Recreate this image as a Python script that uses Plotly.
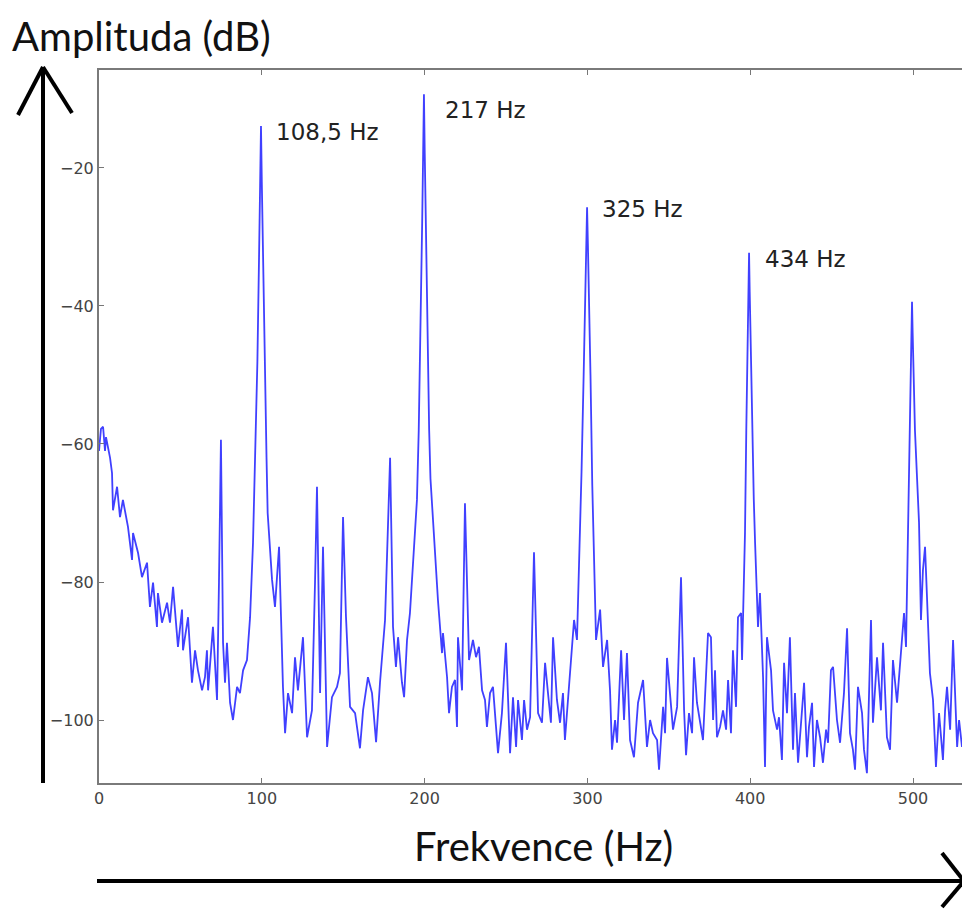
import plotly.graph_objects as go

# ---- data (x in axis units, amplitude in dB) ----
band_0_100 = [
    (0, -61), (1.2, -57.8), (2.5, -57.5), (3.7, -61), (4.3, -59), (5.5, -60.4), (6.8, -62),
    (8.0, -64.2), (8.6, -69.6), (11.1, -66.2), (12.9, -70.6), (14.7, -68.1), (17.8, -72),
    (20.3, -76.8), (20.9, -72.9), (24.0, -75.8), (26.4, -79.3), (29.5, -77.2), (31.3, -83.6),
    (33.2, -80.1), (35.6, -86.5), (36.2, -81.6), (38.7, -85.9), (41.8, -83), (43.6, -85.9),
    (45.5, -80.7), (48.5, -89.4), (51.0, -84), (51.6, -89.9), (54.7, -85.1), (57.1, -94.6),
    (59.0, -89.9), (60.8, -92.8), (63.3, -95.7), (65.1, -93.8), (66.3, -89.9), (67.0, -95.7),
    (70.0, -86.5), (72.5, -97.1), (73.7, -80), (74.9, -59.4), (76.2, -88.8), (77.4, -94.6),
    (78.6, -88.8), (80.5, -97.5), (82.3, -100), (84.8, -95.2), (86.6, -96.1), (88.5, -92.8),
    (90.9, -91.3), (92.8, -85.1), (94.6, -74.3), (96.0, -62), (97.3, -48), (98.3, -33), (99.0, -22),
]
band_100_200 = [
    (99.5, -13.9), (100.0, -22), (100.7, -33), (101.7, -48), (102.9, -62), (103.6, -70),
    (106.3, -79.7), (108.1, -83.6), (110.6, -74.9), (111.8, -85), (113.0, -95.2), (114.3, -101.9),
    (116.1, -96.1), (118.6, -99), (120.4, -90.9), (122.2, -95.7), (125.3, -88), (127.8, -102.5),
    (130.8, -98.6), (132.7, -80), (133.9, -66.2), (135.8, -96.1), (137.6, -74.9), (140.1, -103.9),
    (143.1, -96.7), (146.2, -95.2), (148.0, -93.2), (149.9, -70.6), (151.7, -85), (154.2, -98.1),
    (157.3, -99), (160.3, -104.1), (162.2, -98.6), (165.2, -93.8), (167.7, -96.1), (170.2, -103.2),
    (172.6, -94.6), (175.7, -85.5), (176.9, -75), (178.8, -62), (180.6, -86.5), (182.4, -92.3),
    (183.7, -88), (186.1, -94.6), (187.4, -96.7), (189.2, -88.4), (191.0, -84.5), (192.9, -77.2),
    (195.3, -68.1), (196.4, -58), (197.6, -43), (198.5, -28), (199.1, -18),
]
band_200_300 = [
    (199.6, -9.3), (200.1, -18), (200.7, -28), (201.6, -43), (202.8, -58), (203.6, -65),
    (206.4, -75.8), (208.2, -82.6), (210.7, -90.3), (211.3, -87.4), (213.8, -93.8), (215.0, -99),
    (216.8, -95.2), (218.7, -94.2), (219.9, -101), (220.5, -88), (223.0, -95.7), (224.8, -68.6),
    (227.3, -91.3), (229.7, -88.4), (231.6, -90.9), (233.4, -89.4), (235.3, -95.7), (237.1, -97.1),
    (238.3, -101), (240.2, -96.1), (242.0, -95.2), (243.9, -100.4), (245.1, -104.8), (247.5, -99),
    (250.0, -88.8), (252.5, -104.8), (254.3, -96.7), (256.2, -103.9), (257.4, -97.1), (259.8, -102.9),
    (261.1, -97.1), (262.9, -101.4), (264.8, -99.6), (267.2, -75.7), (269.7, -99), (272.1, -100.4),
    (274.0, -91.7), (275.8, -96.1), (277.6, -100.4), (278.9, -88), (281.3, -97.1), (283.2, -100.4),
    (285.0, -96.1), (286.2, -102.9), (288.1, -96.7), (289.9, -91.3), (291.8, -85.5), (293.6, -88.4),
    (294.8, -78.7), (296.4, -64), (297.7, -50), (298.6, -38), (299.3, -31),
]
band_300_400 = [
    (299.8, -25.7), (300.3, -31), (301.0, -38), (301.9, -50), (303.0, -66), (304.7, -81.6),
    (305.3, -88.4), (307.8, -84), (309.6, -92.3), (312.1, -88.4), (313.9, -95.7), (315.1, -104.3),
    (317.0, -100), (318.2, -103.3), (320.7, -89.9), (322.5, -100), (324.3, -90.3), (326.2, -102.9),
    (328.6, -105.4), (331.1, -97.5), (334.2, -94.2), (336.6, -103.9), (338.5, -100), (340.3, -101.9),
    (342.8, -102.9), (344.0, -107.2), (346.5, -98.1), (347.7, -101.9), (348.9, -91), (352.6, -101.4),
    (355.1, -98.1), (357.5, -79.3), (359.4, -98.6), (360.6, -105.1), (362.4, -99), (364.3, -101.9),
    (365.5, -90.9), (367.3, -97.5), (369.2, -100), (371.0, -102.9), (374.1, -87.4), (375.9, -88),
    (377.2, -100), (378.4, -92.8), (379.6, -102.5), (381.5, -101), (383.3, -98.6), (385.2, -101.4),
    (386.4, -94.2), (388.2, -101.9), (389.4, -89.9), (391.3, -98.1), (392.5, -85.1), (394.4, -84.5),
    (395.0, -91.3), (396.8, -72.9), (397.6, -58), (398.3, -46), (398.9, -38),
]
band_400_530 = [
    (399.3, -32.3), (399.7, -38), (400.3, -46), (401.0, -56), (402.2, -68), (403.0, -74.3),
    (404.8, -86.5), (406.0, -81.6), (407.9, -93.8), (409.1, -106.8), (410.3, -88), (412.8, -92.8),
    (414.0, -98.6), (416.5, -101.4), (417.7, -99.6), (419.5, -105.8), (420.8, -91.7), (422.6, -99),
    (424.4, -88), (426.3, -104.3), (427.5, -96.1), (429.4, -106.2), (431.2, -100), (433.1, -94.6),
    (434.9, -105.4), (436.1, -101), (438.0, -97.5), (439.2, -106.8), (441.0, -100), (442.9, -102.5),
    (444.7, -106.2), (446.6, -101.4), (447.8, -103.3), (449.6, -92.8), (450.9, -92.3), (453.3, -100),
    (455.2, -103.3), (457.6, -96.1), (459.5, -86.7), (461.3, -101.9), (463.1, -104.3), (464.4, -107.2),
    (466.2, -95.2), (468.7, -99), (469.9, -104.3), (471.7, -107.7), (474.2, -85.5), (475.4, -100.4),
    (477.9, -90.9), (480.3, -98.6), (481.6, -88.8), (484.0, -102.5), (485.9, -104.3), (487.7, -91.3),
    (490.2, -97.5), (492.6, -90.3), (494.5, -84.5), (495.7, -89.4), (496.9, -71), (497.8, -58),
    (498.5, -50), (499.0, -44), (499.4, -39.4), (499.8, -44), (500.4, -50), (501.2, -58),
    (502.5, -65), (503.7, -71.4), (504.9, -85.5), (506.1, -78.3), (507.4, -74.9), (508.6, -82.6),
    (510.4, -93.2), (512.3, -97.1), (514.1, -106.8), (516.0, -99), (518.4, -105.8), (519.7, -98.6),
    (520.9, -95.2), (522.8, -101.4), (524.6, -88.4), (527.1, -103.9), (528.3, -100), (530.1, -103.9),
]

x_ticks = [0, 100, 200, 300, 400, 500]
y_ticks = [-100, -80, -60, -40, -20]
peak_labels = ["108,5 Hz", "217 Hz", "325 Hz", "434 Hz"]
peak_label_x = [107.3, 211.0, 307.5, 407.7]
peak_label_y = [-14.8, -11.6, -25.9, -33.2]

points = band_0_100 + band_100_200 + band_200_300 + band_300_400 + band_400_530
freq = [p[0] for p in points]
amp = [p[1] for p in points]

# ---- layout geometry ----
W, H = 962, 909
ML, MR, MT, MB = 99, 0, 70, 126
PW, PH = W - ML - MR, H - MT - MB


def px(xp):
    return (xp - ML) / PW


def py(yp):
    return (H - MB - yp) / PH


fig = go.Figure()
fig.add_trace(go.Scatter(
    x=freq, y=amp, mode="lines",
    line=dict(color="rgba(30,30,255,0.85)", width=1.8),
    hoverinfo="skip", showlegend=False,
))

tick_font = dict(family="DejaVu Sans", size=16, color="#444")
fig.update_xaxes(
    range=[0, 530.1], tickvals=x_ticks, ticktext=[str(v) for v in x_ticks],
    ticks="inside", ticklen=5, tickwidth=1, tickcolor="#777",
    showline=True, linecolor="#7a7a7a", linewidth=2, mirror="ticks",
    showgrid=False, zeroline=False, tickfont=tick_font,
)
fig.update_yaxes(
    range=[-109.13, -5.8], tickvals=y_ticks,
    ticks="inside", ticklen=5, tickwidth=1, tickcolor="#777",
    showline=True, linecolor="#7a7a7a", linewidth=2, mirror=False,
    showgrid=False, zeroline=False, tickfont=tick_font,
)

annotations = []
for t, xv, yv in zip(peak_labels, peak_label_x, peak_label_y):
    annotations.append(dict(
        x=xv, y=yv, xref="x", yref="y", text=t, showarrow=False,
        xanchor="left", yanchor="middle",
        font=dict(family="DejaVu Sans", size=23, color="#222"),
    ))

title_font = dict(family="Lato", size=40, color="#111")
annotations.append(dict(
    x=px(10), y=py(36), xref="paper", yref="paper", text="Amplituda (dB)",
    showarrow=False, xanchor="left", yanchor="middle", font=title_font,
))
annotations.append(dict(
    x=px(543), y=py(846), xref="paper", yref="paper", text="Frekvence (Hz)",
    showarrow=False, xanchor="center", yanchor="middle", font=title_font,
))

arrow_line = dict(color="black", width=4)
shapes = [
    # vertical arrow
    dict(type="line", xref="paper", yref="paper", x0=px(43), y0=py(783), x1=px(43), y1=py(67), line=arrow_line),
    dict(type="line", xref="paper", yref="paper", x0=px(43), y0=py(67), x1=px(18), y1=py(115), line=arrow_line),
    dict(type="line", xref="paper", yref="paper", x0=px(43), y0=py(67), x1=px(72), y1=py(113), line=arrow_line),
    # horizontal arrow
    dict(type="line", xref="paper", yref="paper", x0=px(97), y0=py(881), x1=px(964), y1=py(881), line=arrow_line),
    dict(type="line", xref="paper", yref="paper", x0=px(964), y0=py(881), x1=px(942), y1=py(853), line=arrow_line),
    dict(type="line", xref="paper", yref="paper", x0=px(964), y0=py(881), x1=px(942), y1=py(907), line=arrow_line),
]

fig.update_layout(
    width=W, height=H,
    margin=dict(l=ML, r=MR, t=MT, b=MB),
    paper_bgcolor="white", plot_bgcolor="white",
    showlegend=False,
    annotations=annotations, shapes=shapes,
)

fig.write_html("out.html")
